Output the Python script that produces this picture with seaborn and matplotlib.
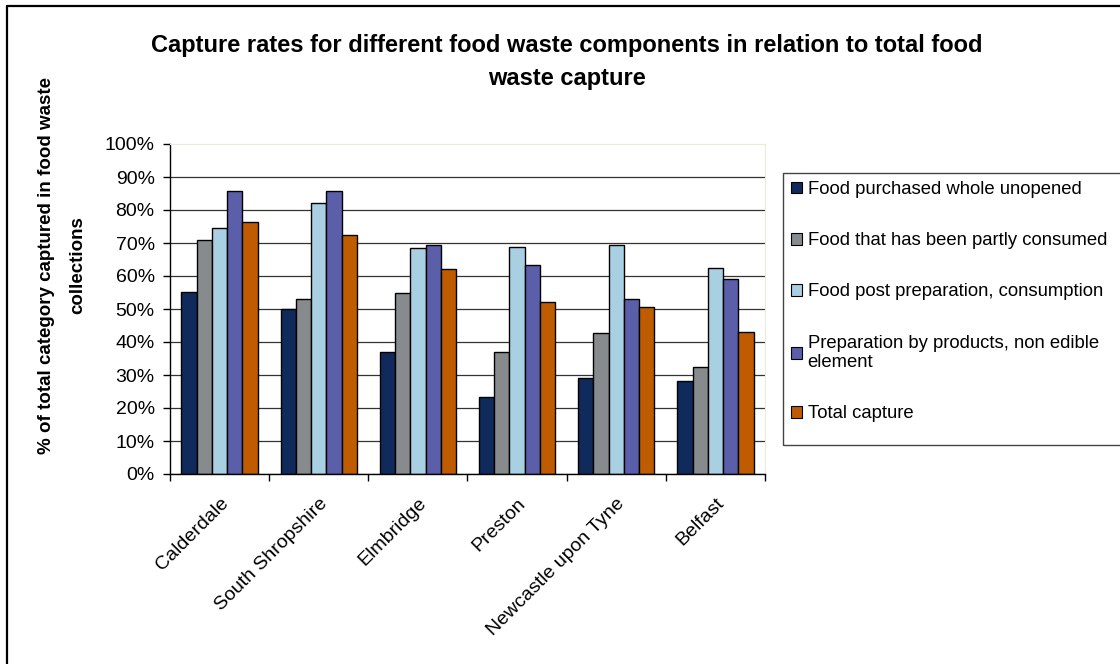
import matplotlib
matplotlib.use("Agg")
import numpy as np
import pandas as pd
import matplotlib.pyplot as plt
import seaborn as sns
from matplotlib.patches import Patch, Rectangle
from matplotlib.lines import Line2D

# data (percent)
sites = ["Calderdale", "South Shropshire", "Elmbridge", "Preston",
         "Newcastle upon Tyne", "Belfast"]
components = ["Food purchased whole unopened",
              "Food that has been partly consumed",
              "Food post preparation, consumption",
              "Preparation by products, non edible\nelement",
              "Total capture"]
whole_unopened = [55.3, 50.1, 37.0, 23.4, 29.0, 28.1]
partly_consumed = [70.9, 52.9, 54.8, 37.0, 42.7, 32.3]
post_preparation = [74.6, 82.2, 68.4, 68.9, 69.5, 62.5]
preparation_byproducts = [85.9, 85.9, 69.5, 63.3, 53.0, 59.2]
total_capture = [76.5, 72.3, 62.0, 52.0, 50.7, 43.0]
colors = ["#112a5c", "#878b8d", "#a9cfe3", "#5b5ea8", "#bf5b00"]

series = [whole_unopened, partly_consumed, post_preparation,
          preparation_byproducts, total_capture]
rows = []
for comp, vals in zip(components, series):
    for site, v in zip(sites, vals):
        rows.append({"site": site, "component": comp, "value": v})
df = pd.DataFrame(rows)

sns.set_style("white")
plt.rcParams["font.family"] = ["Liberation Sans", "DejaVu Sans"]
plt.rcParams["text.color"] = "black"
plt.rcParams["xtick.color"] = "black"
plt.rcParams["ytick.color"] = "black"

W, H = 1120, 664
fig = plt.figure(figsize=(W / 100, H / 100), dpi=100)
ax = fig.add_axes([170 / W, 1 - 474 / H, 595 / W, 330 / H])

sns.barplot(data=df, x="site", y="value", hue="component", palette=colors,
            width=0.77, gap=0, saturation=1, edgecolor="black", linewidth=1,
            legend=False, ax=ax)

ax.set_xlim(-0.5, 5.5)
ax.set_ylim(0, 100)
ax.set_yticks(range(0, 101, 10))
ax.set_yticklabels([f"{v}%" for v in range(0, 101, 10)])
ax.yaxis.grid(True, color="#333333", lw=0.9)
ax.get_ygridlines()[-1].set_visible(False)
ax.set_axisbelow(True)

for s in ["left", "bottom"]:
    ax.spines[s].set_color("black")
    ax.spines[s].set_linewidth(1)
for s in ["top", "right"]:
    ax.spines[s].set_color("#ecead8")
    ax.spines[s].set_linewidth(0.8)

ax.tick_params(axis="y", direction="out", length=5, width=1, color="black",
               labelcolor="black", labelsize=14, pad=6, left=True)
ax.set_xticks(range(len(sites)))
ax.set_xticklabels(sites, rotation=45, ha="right", rotation_mode="anchor")
ax.tick_params(axis="x", which="major", length=0, pad=15, labelsize=14,
               labelcolor="black")
ax.set_xticks(np.arange(-0.5, len(sites), 1), minor=True)
ax.tick_params(axis="x", which="minor", direction="out", length=5, width=1,
               color="black", bottom=True)
ax.set_xlabel("")
ax.set_ylabel("")

# legend
handles = [Patch(facecolor=c, edgecolor="black", lw=0.8) for c in colors]
fig.legend(handles, components, loc="upper left",
           bbox_to_anchor=(791 / W, 1 - 181 / H), frameon=False, fontsize=13.3,
           handlelength=0.6, handleheight=0.6, handletextpad=0.3,
           labelspacing=1.85, borderaxespad=0, borderpad=0, labelcolor="black")
fig.add_artist(Rectangle((783 / W, 1 - 445 / H), (1130 - 783) / W, 272 / H,
                         transform=fig.transFigure, fill=False,
                         edgecolor="#444444", lw=1))

# outer border (left and top only)
fig.add_artist(Line2D([7 / W, 7 / W], [0, 1 - 6 / H], color="black", lw=1.6,
                      transform=fig.transFigure))
fig.add_artist(Line2D([7 / W, 1], [1 - 6 / H, 1 - 6 / H], color="black",
                      lw=1.6, transform=fig.transFigure))

fig.text(62 / W, 1 - 265 / H,
         "% of total category captured in food waste\ncollections",
         rotation=90, ha="center", va="center", fontsize=13.5, color="black",
         fontweight="bold", linespacing=2.05, multialignment="center")
fig.text(567 / W, 1 - 34 / H,
         "Capture rates for different food waste components in relation to total food\nwaste capture",
         ha="center", va="top", fontsize=17, fontweight="bold", color="black",
         linespacing=1.55)

fig.savefig("out.png", dpi=100)
